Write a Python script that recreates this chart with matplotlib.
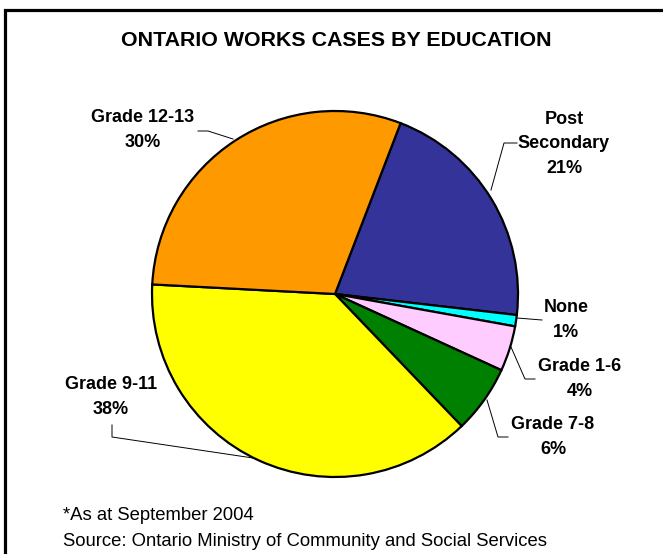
import numpy as np
import matplotlib.pyplot as plt

# education breakdown, clockwise from Post Secondary
labels = ['Post\nSecondary', 'None', 'Grade 1-6', 'Grade 7-8', 'Grade 9-11', 'Grade 12-13']
shares = [21, 1, 4, 6, 38, 30]
colors = ['#333399', '#00FFFF', '#FFCCFF', '#008000', '#FFFF00', '#FF9900']

# label text positions (pixels, y down) and leader line paths
label_pos = [(564, 144), (566, 320), (580, 379), (553, 437), (111, 397), (143, 130)]
leaders = [
    [(491, 190), (504, 143), (517, 143)],
    [(517, 318), (542, 320)],
    [(511, 347), (525, 379), (535, 379)],
    [(487, 400), (498, 437), (508, 437)],
    [(112, 425), (112, 437), (253, 458)],
    [(198, 131), (208, 131), (233, 139)],
]

W, H = 663, 554
plt.rcParams['font.family'] = ['Liberation Sans', 'DejaVu Sans']

fig = plt.figure(figsize=(W / 100, H / 100), dpi=100)
ax = fig.add_axes([0, 0, 1, 1])

def fy(y):
    return H - y

# frame: only top and left edges show
ax.plot([4.5, 4.5, W + 5], [-5, fy(9.5), fy(9.5)], color='black', lw=2.3,
        solid_joinstyle='miter')

cx, cy, r = 335, 294, 183
ax.pie(shares, colors=colors, startangle=90 - 21, counterclock=False,
       center=(cx, fy(cy)), radius=r, frame=True,
       wedgeprops=dict(edgecolor='black', linewidth=1.6))
ax.set_xlim(0, W)
ax.set_ylim(0, H)
ax.axis('off')

for lab, v, (x, y) in zip(labels, shares, label_pos):
    ax.text(x, fy(y), f'{lab}\n{v}%', ha='center', va='center', fontsize=13,
            fontweight='bold', linespacing=1.6)

for pts in leaders:
    xs = [p[0] for p in pts]
    ys = [fy(p[1]) for p in pts]
    ax.plot(xs, ys, color='black', lw=0.7)

ax.text(336, fy(40), 'ONTARIO WORKS CASES BY EDUCATION', ha='center', va='center',
        fontsize=15.4, fontweight='bold')

ax.text(63, fy(516), '*As at September 2004', ha='left', va='center', fontsize=13.3)
ax.text(63, fy(541), 'Source: Ontario Ministry of Community and Social Services',
        ha='left', va='center', fontsize=13.3)

fig.savefig('out.png', dpi=100)
